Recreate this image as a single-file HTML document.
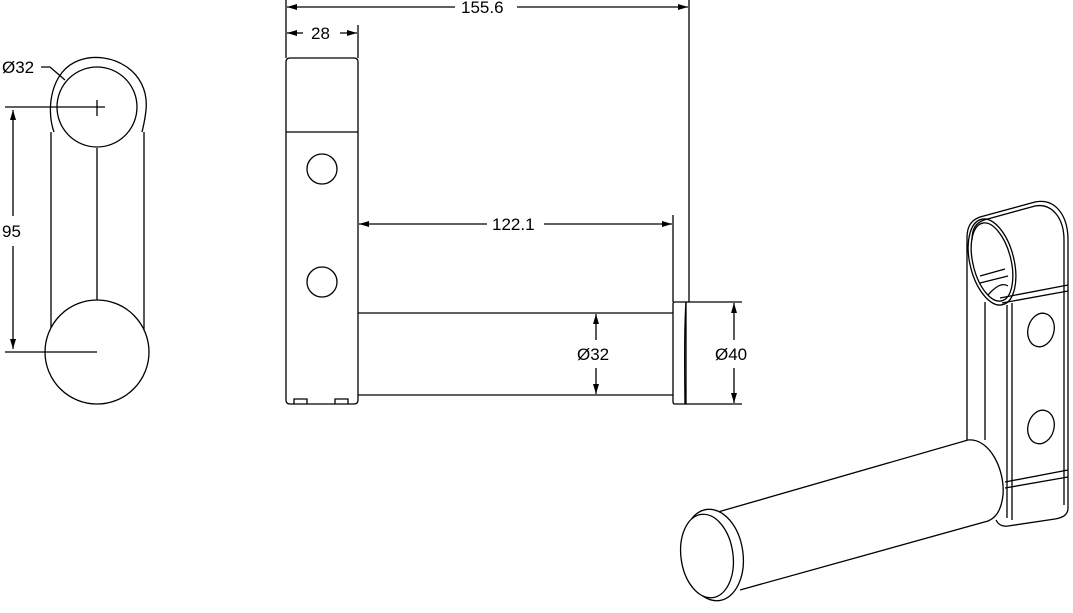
<!DOCTYPE html>
<html><head><style>
html,body{margin:0;padding:0;background:#fff;}
svg{display:block;}
text{font-family:"Liberation Sans",sans-serif;font-size:17px;fill:#000;}
</style></head><body>
<svg width="1073" height="613" viewBox="0 0 1073 613" xmlns="http://www.w3.org/2000/svg">
<defs>
<marker id="a" viewBox="0 0 10 6" refX="10" refY="3" markerWidth="10" markerHeight="6" orient="auto-start-reverse" markerUnits="userSpaceOnUse"><path d="M0,0 L10,3 L0,6 Z" fill="#000"/></marker>
</defs>
<g fill="none" stroke="#000" stroke-width="1.3">
<!-- left view -->
<path d="M54,132 C46,110 50,70 80,60 C110,50 150,70 146,110 C145,120 143,128 142,132"/>
<circle cx="97" cy="107" r="40" fill="#fff"/>
<line x1="51" y1="132" x2="51" y2="330"/>
<line x1="144" y1="132" x2="144" y2="330"/>
<line x1="97" y1="148" x2="97" y2="300"/>
<circle cx="97" cy="352" r="52" fill="#fff"/>
<line x1="5" y1="107" x2="105" y2="107"/>
<line x1="97" y1="100" x2="97" y2="116"/>
<line x1="5" y1="352" x2="97" y2="352"/>
<line x1="13" y1="216" x2="13" y2="110" marker-end="url(#a)"/>
<line x1="13" y1="246" x2="13" y2="349" marker-end="url(#a)"/>
<path d="M41,67 L50,67 L65,80"/>
<!-- middle view -->
<path d="M286,62 Q286,58 290,58 L354,58 Q358,58 358,62 L358,400 Q358,404 354,404 L290,404 Q286,404 286,400 Z"/>
<line x1="286" y1="132" x2="358" y2="132"/>
<path d="M294,404 L294,399 L307,399 L307,404 M335,404 L335,399 L348,399 L348,404"/>
<circle cx="322" cy="169" r="15"/>
<circle cx="322" cy="282" r="15"/>
<line x1="358" y1="313" x2="673" y2="313"/>
<line x1="358" y1="395" x2="673" y2="395"/>
<path d="M673,304 Q673,302 675,302 L686,302 L686,404 L675,404 Q673,404 673,402 Z"/>
<path d="M686,302 Q684,330 685,404"/>
<line x1="286" y1="0" x2="286" y2="58"/>
<line x1="689" y1="0" x2="689" y2="302"/>
<line x1="358" y1="25" x2="358" y2="58"/>
<line x1="673" y1="215" x2="673" y2="302"/>
<line x1="686" y1="302" x2="742" y2="302"/>
<line x1="686" y1="404" x2="742" y2="404"/>
<line x1="455" y1="7" x2="287" y2="7" marker-end="url(#a)"/>
<line x1="517" y1="7" x2="688" y2="7" marker-end="url(#a)"/>
<line x1="303" y1="33" x2="287" y2="33" marker-end="url(#a)"/>
<line x1="340" y1="33" x2="357" y2="33" marker-end="url(#a)"/>
<line x1="487" y1="224" x2="359" y2="224" marker-end="url(#a)"/>
<line x1="544" y1="224" x2="672" y2="224" marker-end="url(#a)"/>
<line x1="596" y1="340" x2="596" y2="314" marker-end="url(#a)"/>
<line x1="596" y1="368" x2="596" y2="394" marker-end="url(#a)"/>
<line x1="734" y1="340" x2="734" y2="303" marker-end="url(#a)"/>
<line x1="734" y1="368" x2="734" y2="403" marker-end="url(#a)"/>
<!-- iso view -->
<path d="M967,440 L967,238 C967,225 972,220 980,217 L1035,202 C1055,198 1068,215 1068,240 L1068,508 C1068,515 1062,518 1055,519 L1008,526 C1002,527 998,524 996,520"/>
<path d="M972,240 C972,228 976,223 984,220 L1035,206 C1052,203 1064,218 1064,240 L1064,505"/>
<ellipse cx="992" cy="262" rx="22" ry="44" transform="rotate(-14 992 262)"/>
<ellipse cx="992" cy="262" rx="19" ry="40" transform="rotate(-14 992 262)"/>
<path d="M980,276 L1005,269 M980,283 L1008,276 M988,295 C995,287 1002,282 1008,286"/>
<path d="M1000,298 L1068,285 M1002,303 L1068,291"/>
<line x1="985" y1="302" x2="985" y2="440"/>
<line x1="1007" y1="305" x2="1007" y2="518"/>
<line x1="1012" y1="303" x2="1012" y2="520"/>
<path d="M1005,482 L1068,470 M1005,488 L1068,477"/>
<ellipse cx="1041" cy="330" rx="13" ry="17" transform="rotate(15 1041 330)"/>
<ellipse cx="1041" cy="427" rx="13" ry="17" transform="rotate(15 1041 427)"/>
<path d="M718,512 L968,440 C990,438 1005,470 1003,495 C1001,512 995,518 988,521 L740,590" fill="#fff"/>
<ellipse cx="713" cy="555" rx="30" ry="46" fill="#fff" transform="rotate(-8 713 555)"/>
<ellipse cx="707" cy="556" rx="26" ry="42" fill="#fff" transform="rotate(-8 707 556)"/>
</g>
<text x="2" y="73">Ø32</text>
<text x="2" y="237">95</text>
<text x="461" y="13">155.6</text>
<text x="311" y="39">28</text>
<text x="492" y="230">122.1</text>
<text x="577" y="360">Ø32</text>
<text x="715" y="360">Ø40</text>
</svg>
</body></html>
